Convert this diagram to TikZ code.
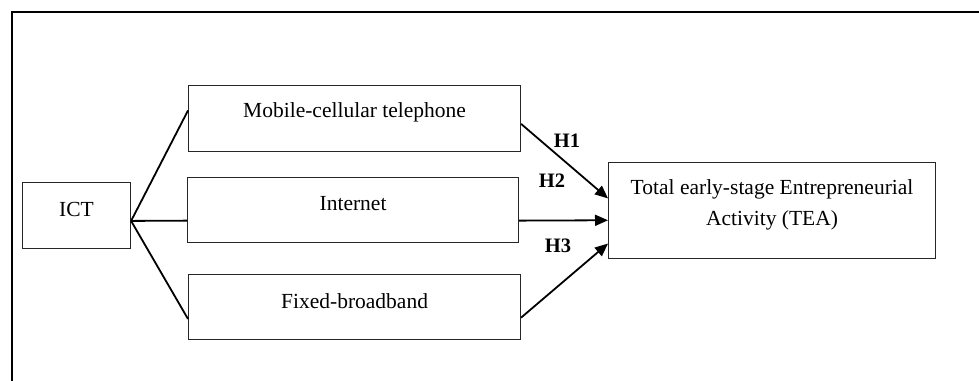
\documentclass[tikz,border=0pt]{standalone}
\usepackage{fontspec}
\setmainfont{Liberation Serif}
\usetikzlibrary{arrows.meta,calc}
\begin{document}
\begin{tikzpicture}[x=1pt,y=-1pt,
  box/.style={draw=black!85,line width=1.1pt,rectangle,inner sep=0pt,anchor=north west},
  txt/.style={font=\fontsize{21.5}{25}\selectfont,inner sep=0pt,align=center},
  hlab/.style={font=\fontsize{20.5}{24}\selectfont\bfseries,inner sep=0pt},
  conn/.style={line width=1.8pt,black},
  arr/.style={conn,-{Triangle[length=13pt,width=11pt]}}]
\useasboundingbox (0,0) rectangle (979,380);
% frame
\draw[line width=2pt] (11.5,381) -- (11.5,11.5) -- (980,11.5);
% boxes
\node[box,minimum width=108pt,minimum height=66pt] (ict) at (22,182) {};
\node[box,minimum width=332pt,minimum height=66pt] (mob) at (188,85) {};
\node[box,minimum width=331pt,minimum height=65pt] (inet) at (187,177) {};
\node[box,minimum width=332pt,minimum height=65pt] (fix) at (188,274) {};
\node[box,minimum width=327pt,minimum height=96pt] (tea) at (608,162) {};
% texts
\node[txt] at ([yshift=6pt]ict.center) {ICT};
\node[txt] at ([yshift=6pt]mob.center) {Mobile-cellular telephone};
\node[txt] at ([yshift=6pt]inet.center) {Internet};
\node[txt] at ([yshift=6pt]fix.center) {Fixed-broadband};
\node[txt] at ([yshift=6pt]tea.center) {Total early-stage Entrepreneurial\\[6pt]Activity (TEA)};
% fan-out lines
\coordinate (hub) at ($(ict.north east)!0.58!(ict.south east)$);
\draw[conn] (hub) -- ($(mob.north west)!0.38!(mob.south west)$);
\draw[conn] (hub) -- ($(inet.north west)!0.66!(inet.south west)$);
\draw[conn] (hub) -- ($(fix.north west)!0.68!(fix.south west)$);
% arrows
\draw[arr] ($(mob.north east)!0.58!(mob.south east)$) -- ($(tea.north west)!0.375!(tea.south west)$);
\draw[arr] ($(inet.north east)!0.66!(inet.south east)$) -- ($(tea.north west)!0.6!(tea.south west)$);
\draw[arr] ($(fix.north east)!0.66!(fix.south east)$) -- ($(tea.north west)!0.84!(tea.south west)$);
% labels
\node[hlab] (h1) at (567,141) {H1};
\node[hlab] (h2) at (552,181) {H2};
\node[hlab] (h3) at (558,246) {H3};
\end{tikzpicture}
\end{document}
